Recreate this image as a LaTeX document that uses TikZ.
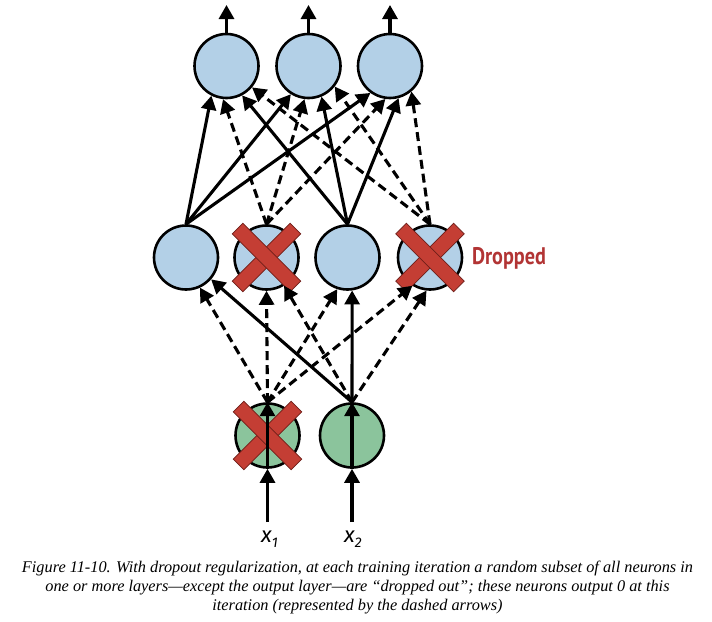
\documentclass[tikz,border=0pt]{standalone}
\usepackage{fontspec}
\setmainfont{Liberation Serif}
\newfontfamily\dropfont[FakeStretch=0.84]{PT Sans}
\newfontfamily\labfont{Fira Sans}
\usetikzlibrary{arrows.meta}
\definecolor{nblue}{RGB}{179,208,231}
\definecolor{ngreen}{RGB}{139,196,156}
\definecolor{xred}{RGB}{196,62,52}
\definecolor{xedge}{RGB}{110,30,25}
\definecolor{dropred}{RGB}{178,52,52}
\begin{document}
\begin{tikzpicture}[x=1pt,y=-1pt,
  neuron/.style={circle,draw=black,line width=2.6pt,minimum size=64pt,inner sep=0pt},
  hid/.style={neuron,fill=nblue},
  inp/.style={neuron,fill=ngreen},
  xbar/.style={rectangle,fill=xred,draw=xedge,line width=0.7pt,minimum width=82pt,minimum height=15pt,inner sep=0pt},
  conn/.style={line width=3.1pt,-{Triangle[length=14pt,width=15pt]}},
  drop/.style={conn,dash pattern=on 9pt off 5pt},
  lab/.style={anchor=base west,inner sep=0pt,font=\labfont\fontsize{22}{22}\selectfont\itshape},
]
\useasboundingbox (0,0) rectangle (712,621);
\fill[white] (0,0) rectangle (712,621);

% output layer
\node[hid] (o1) at (226.5,66) {};
\node[hid] (o2) at (308.5,66) {};
\node[hid] (o3) at (390,66) {};
% hidden layer
\node[hid] (h1) at (186,257.5) {};
\node[hid] (h2) at (266.5,257.5) {};
\node[hid] (h3) at (347.5,257.5) {};
\node[hid] (h4) at (430,257.5) {};
% input layer
\node[inp] (i1) at (267.5,435.5) {};
\node[inp] (i2) at (352,435.5) {};

% crosses
\node[xbar,rotate=45] (c2a) at (h2) {};
\node[xbar,rotate=-45] (c2b) at (h2) {};
\node[xbar,rotate=45] (c4a) at (h4) {};
\node[xbar,rotate=-45] (c4b) at (h4) {};
\node[xbar,rotate=45] (c1a) at (i1) {};
\node[xbar,rotate=-45] (c1b) at (i1) {};

% outputs
\coordinate (t1) at (226.5,5);
\coordinate (t2) at (308.5,5);
\coordinate (t3) at (390,5);
\draw[conn] (o1.north) -- (t1);
\draw[conn] (o2.north) -- (t2);
\draw[conn] (o3.north) -- (t3);

% hidden -> output
\foreach \o/\a/\b/\c/\d in {1/243/264/298/320, 2/238/263/293/322, 3/234/262/285/310} {
  \draw[conn] (h1.north) -- (o\o.\a);
  \draw[drop] (h2.north) -- (o\o.\b);
  \draw[conn] (h3.north) -- (o\o.\c);
  \draw[drop] (h4.north) -- (o\o.\d);
}

% input -> hidden
\draw[drop] (i1.north) -- (h1.295);
\draw[drop] (i1.north) -- (h2.270);
\draw[drop] (i1.north) -- (h3.252);
\draw[drop] (i1.north) -- (h4.238);
\draw[conn] (i2.north) -- (h1.319);
\draw[drop] (i2.north) -- (h2.302);
\draw[conn] (i2.north) -- (h3.278);
\draw[drop] (i2.north) -- (h4.264);

% inputs
\coordinate (s1) at (267.5,522);
\coordinate (s2) at (352,522);
\draw[conn] (s1) -- (i1.south);
\draw[conn] (i1.south) -- (i1.north);
\draw[conn] (s2) -- (i2.south);
\draw[conn] (i2.south) -- (i2.north);

\node[lab] (l1) at (261,542) {x\raisebox{-5pt}{\fontsize{14}{14}\selectfont 1}};
\node[lab] (l2) at (344,542) {x\raisebox{-5pt}{\fontsize{14}{14}\selectfont 2}};

\node[text=dropred,inner sep=0pt,font=\dropfont\bfseries\fontsize{24}{24}\selectfont] (dl) at (509,258) {Dropped};

\node[align=center,inner sep=0pt,font=\fontsize{16.3}{19}\selectfont\itshape] (cap) at (357.5,587.5)
 {Figure 11-10. With dropout regularization, at each training iteration a random subset of all neurons in\\
  one or more layers—except the output layer—are “dropped out”; these neurons output 0 at this\\
  iteration (represented by the dashed arrows)};
\end{tikzpicture}
\end{document}
